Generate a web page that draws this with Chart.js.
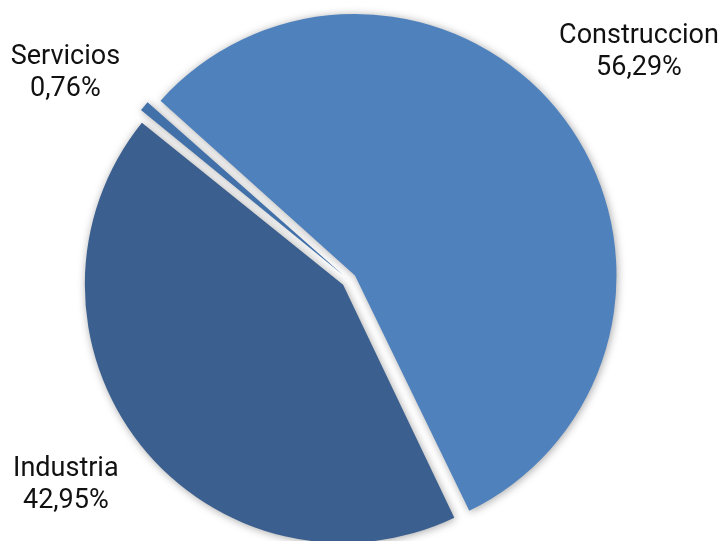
<!DOCTYPE html>
<html>
<head>
<meta charset="utf-8">
<script src="https://cdn.jsdelivr.net/npm/chart.js@4.4.0/dist/chart.umd.min.js"></script>
<style>
  html, body { margin: 0; padding: 0; background: #ffffff; overflow: hidden; }
  #wrap { position: relative; width: 722px; height: 541px; }
</style>
</head>
<body>
<div id="wrap"><canvas id="c"></canvas></div>
<script>
const categories = ['Construccion', 'Industria', 'Servicios'];
const values = [56.29, 42.95, 0.76];
const valueLabels = ['56,29%', '42,95%', '0,76%'];

const sliceColors = ['#4f81bd', '#3b5f8e', '#4270a9'];

// polar placement of each label block: angle (deg, clockwise from top) and distance from pie centre
const labelPlacement = [
  { angle: 51.8, dist: 369 },
  { angle: 234.0, dist: 350 },
  { angle: -53.9, dist: 351 }
];

const shadowPlugin = {
  id: 'sliceShadow',
  beforeDatasetsDraw(chart) {
    const ctx = chart.ctx;
    ctx.save();
    ctx.shadowColor = 'rgba(0,0,0,0.35)';
    ctx.shadowBlur = 9;
    ctx.shadowOffsetX = 1;
    ctx.shadowOffsetY = 1;
  },
  afterDatasetsDraw(chart) {
    chart.ctx.restore();
  }
};

const labelPlugin = {
  id: 'outsideLabels',
  afterDraw(chart) {
    const ctx = chart.ctx;
    const meta = chart.getDatasetMeta(0);
    const area = chart.chartArea;
    const cx = (area.left + area.right) / 2;
    const cy = (area.top + area.bottom) / 2;
    ctx.save();
    ctx.font = '27px Roboto';
    ctx.fillStyle = '#111111';
    ctx.textAlign = 'center';
    ctx.textBaseline = 'middle';
    meta.data.forEach((arc, i) => {
      const p = labelPlacement[i];
      const a = p.angle * Math.PI / 180;
      const x = cx + Math.sin(a) * p.dist;
      const y = cy - Math.cos(a) * p.dist;
      ctx.fillText(categories[i], x, y - 16);
      ctx.fillText(valueLabels[i], x, y + 16);
    });
    ctx.restore();
  }
};

new Chart(document.getElementById('c'), {
  type: 'pie',
  data: {
    labels: categories,
    datasets: [{
      data: values,
      backgroundColor: sliceColors,
      borderWidth: 0,
      offset: 30,
      hoverOffset: 0
    }]
  },
  options: {
    responsive: true,
    maintainAspectRatio: false,
    animation: false,
    rotation: -48.3,
    radius: 254,
    layout: { padding: { left: 0, right: 24, top: 19, bottom: 0 } },
    plugins: {
      legend: { display: false },
      tooltip: { enabled: false }
    },
    events: []
  },
  plugins: [shadowPlugin, labelPlugin]
});
</script>
</body>
</html>
